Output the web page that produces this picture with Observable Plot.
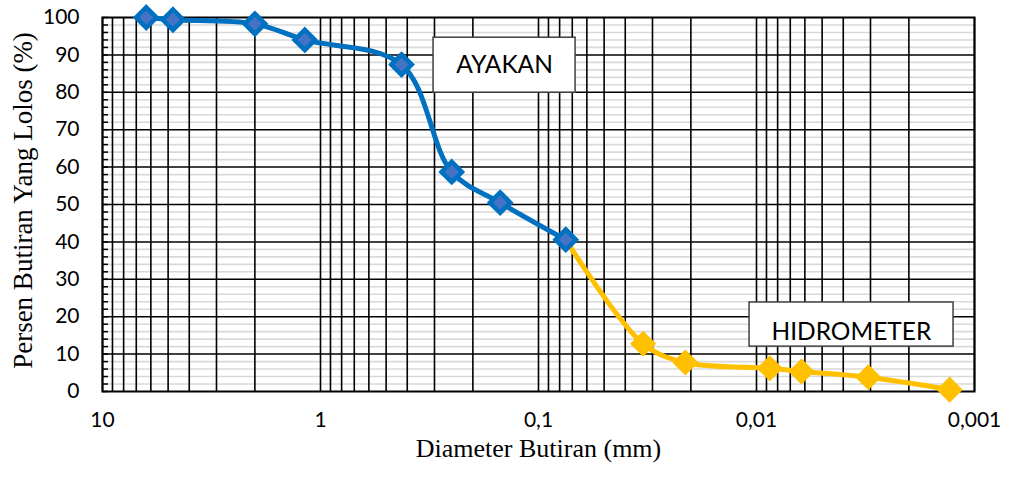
<!DOCTYPE html>
<html>
<head>
<meta charset="utf-8">
<script src="https://cdn.jsdelivr.net/npm/d3@7"></script>
<script src="https://cdn.jsdelivr.net/npm/@observablehq/plot@0.6"></script>
<style>
  html, body { margin: 0; padding: 0; background: #fff; }
  #chart { width: 1010px; height: 481px; }
</style>
</head>
<body>
<div id="chart"></div>
<script>
// Sieve analysis (AYAKAN)
const sieveDiameter = [6.3, 4.75, 2.0, 1.18, 0.425, 0.25, 0.15, 0.075];
const sievePassing  = [100, 99.4, 98.3, 94.0, 87.4, 58.7, 50.5, 40.6];
// Hydrometer analysis
const hydroDiameter = [0.075, 0.0331, 0.0212, 0.00869, 0.00622, 0.00307, 0.0013];
const hydroPassing  = [40.6, 12.75, 7.75, 6.2, 5.35, 3.8, 0.5];

const xTickValues = [10, 1, 0.1, 0.01, 0.001];
const xTickLabels = ["10", "1", "0,1", "0,01", "0,001"];
const yTickValues = [0, 10, 20, 30, 40, 50, 60, 70, 80, 90, 100];

const boxLabels = ["AYAKAN", "HIDROMETER"];

const sieve = sieveDiameter.map((d, i) => ({d, p: sievePassing[i]}));
const hydro = hydroDiameter.map((d, i) => ({d, p: hydroPassing[i]}));

// grid lines
const xGrid = [];
for (let e = -3; e <= 0; e++) for (let k = 1; k <= 9; k++) xGrid.push(k * Math.pow(10, e));
xGrid.push(10);
const yMinor = d3.range(0, 101, 2).filter(v => v % 10 !== 0);
const yMajor = d3.range(10, 100, 10);
const yAllTicks = d3.range(0, 101, 2);

const boxes = [
  {label: boxLabels[0], x1: 0.303, x2: 0.0676, y1: 79.9, y2: 94.6, tx: 0.143, ty: 87.2},
  {label: boxLabels[1], x1: 0.01076, x2: 0.001248, y1: 12.0, y2: 23.8, tx: 0.00367, ty: 16.0}
];

const tickFont = "Lato, 'Open Sans', sans-serif";
const titleFont = "'Liberation Serif', 'Times New Roman', serif";

const chart = Plot.plot({
  width: 1010,
  height: 481,
  marginLeft: 102,
  marginRight: 36,
  marginTop: 17,
  marginBottom: 90,
  x: {type: "log", domain: [10, 0.001]},
  y: {domain: [0, 100]},
  marks: [
    Plot.ruleY(yMinor, {stroke: "#d9d9d9", strokeWidth: 1.6}),
    Plot.ruleY(yMajor, {stroke: "#000", strokeWidth: 1.5}),
    Plot.ruleX(xGrid, {stroke: "#000", strokeWidth: 1.6}),
    Plot.axisY(yAllTicks, {tickSize: -6, tickFormat: () => "", stroke: "#000", strokeWidth: 1.5}),
    Plot.axisY(yTickValues, {tickSize: 0, tickPadding: 23, fontSize: 21, fontFamily: tickFont, fill: "#000", label: null}),
    Plot.axisX(xTickValues, {tickSize: 0, tickPadding: 21, fontSize: 21, fontFamily: tickFont, fill: "#000", label: null,
      tickFormat: (d) => xTickLabels[xTickValues.indexOf(d)]}),
    Plot.frame({stroke: "#000", strokeWidth: 2}),
    Plot.rect(boxes, {x1: "x1", x2: "x2", y1: "y1", y2: "y2", fill: "#fff", stroke: "#404040", strokeWidth: 1.5}),
    Plot.text(boxes, {x: "tx", y: "ty", text: "label", fontSize: 24.5, fontFamily: tickFont, fill: "#000"}),
    Plot.line(hydro, {x: "d", y: "p", stroke: "#FFC000", strokeWidth: 5, curve: "catmull-rom"}),
    Plot.line(sieve, {x: "d", y: "p", stroke: "#0070C0", strokeWidth: 5, curve: "catmull-rom"}),
    Plot.dot(hydro.slice(1), {x: "d", y: "p", symbol: "diamond2", r: 9.2, fill: "#FFC000", stroke: "#FFC000", strokeWidth: 4}),
    Plot.dot(sieve, {x: "d", y: "p", symbol: "diamond2", r: 9.2, fill: "#4472C4", stroke: "#0070C0", strokeWidth: 4.5}),
    Plot.text(["Persen Butiran Yang Lolos (%)"], {frameAnchor: "left", textAnchor: "middle", lineAnchor: "middle", dx: -79, dy: -4, rotate: -90, fontSize: 27, fontFamily: titleFont, fill: "#000"}),
    Plot.text(["Diameter Butiran (mm)"], {frameAnchor: "bottom", textAnchor: "middle", lineAnchor: "middle", dy: 57, fontSize: 26, fontFamily: titleFont, fill: "#000"})
  ]
});
document.getElementById("chart").appendChild(chart);
</script>
</body>
</html>
